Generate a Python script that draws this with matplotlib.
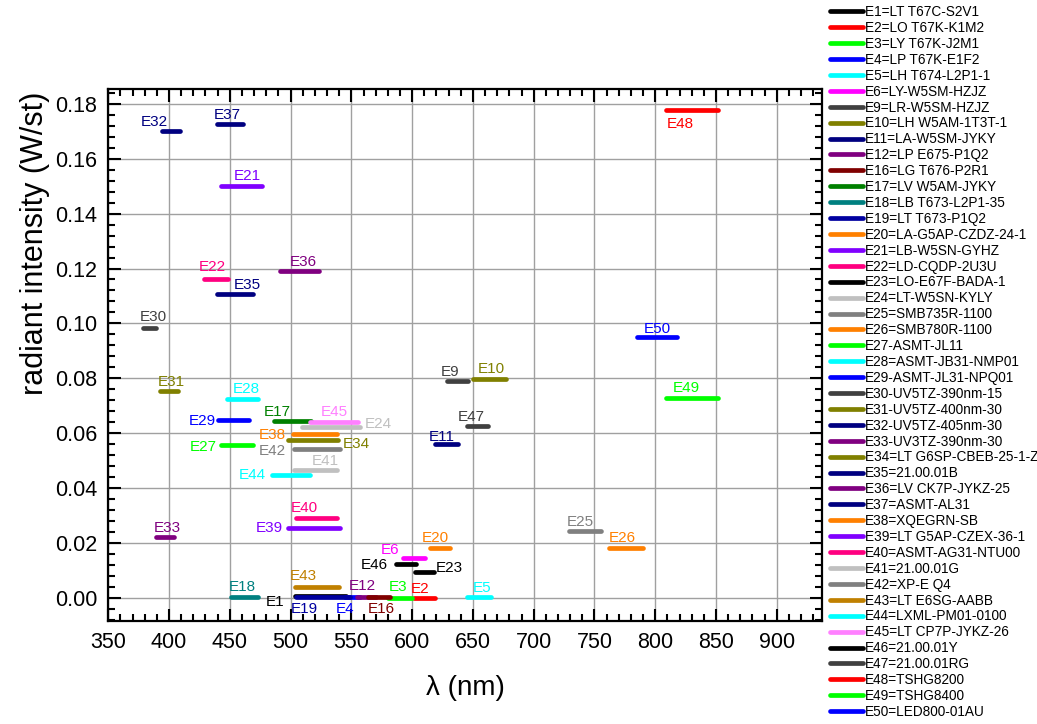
import matplotlib
matplotlib.use("Agg")
import matplotlib.pyplot as plt
from matplotlib.ticker import MultipleLocator

plt.rcParams['font.family'] = ['Liberation Sans', 'DejaVu Sans']

# emitter names, wavelength span (nm) and radiant intensity (W/st)
names = ["E1", "E2", "E3", "E4", "E5", "E6", "E9", "E10", "E11", "E12",
         "E16", "E17", "E18", "E19", "E20", "E21", "E22", "E23", "E24", "E25",
         "E26", "E27", "E28", "E29", "E30", "E31", "E32", "E33", "E34", "E35",
         "E36", "E37", "E38", "E39", "E40", "E41", "E42", "E43", "E44", "E45",
         "E46", "E47", "E48", "E49", "E50"]
lam_lo = [503.5, 601.6, 580, 545, 645.2, 592.6, 628.3, 649.9, 618.7, 555,
          563.8, 486.3, 450.9, 504.1, 615.1, 442.4, 428.5, 602.2, 509, 728.9,
          761.8, 442.7, 447.6, 440.2, 378.5, 392.5, 393.9, 389.2, 497.5, 439.1,
          491.2, 439.6, 501.6, 498, 504.1, 502.7, 502.7, 503.5, 484.4, 515.9,
          586.6, 645.2, 809.2, 809.2, 785]
lam_hi = [545.2, 619.2, 600, 557, 665.3, 610.4, 646.1, 677.1, 637.8, 570,
          582.2, 516.4, 473.4, 548.8, 631, 476.6, 448.2, 618.1, 557, 755.2,
          790.3, 469, 473.4, 466, 389.2, 407.3, 409, 404, 539.1, 469.2,
          523.3, 461, 537.8, 540.5, 538.3, 538.3, 540.5, 540, 515.9, 555.6,
          603, 662.5, 851.6, 851.6, 817.9]
intensity = [0.0008, 0.0001, 0.0001, 0.0003, 0.0003, 0.0147, 0.0790, 0.0797, 0.0559, 0.0002,
             0.0002, 0.0646, 0.0003, 0.0003, 0.0183, 0.1499, 0.1162, 0.0096, 0.0622, 0.0245,
             0.0183, 0.0557, 0.0724, 0.0649, 0.0984, 0.0754, 0.1701, 0.0222, 0.0575, 0.1107,
             0.1192, 0.1728, 0.0598, 0.0254, 0.0290, 0.0465, 0.0542, 0.0038, 0.0448, 0.0640,
             0.0125, 0.0626, 0.1778, 0.0730, 0.0952]
legend_text = ["E1=LT T67C-S2V1", "E2=LO T67K-K1M2", "E3=LY T67K-J2M1", "E4=LP T67K-E1F2",
               "E5=LH T674-L2P1-1", "E6=LY-W5SM-HZJZ", "E9=LR-W5SM-HZJZ", "E10=LH W5AM-1T3T-1",
               "E11=LA-W5SM-JYKY", "E12=LP E675-P1Q2", "E16=LG T676-P2R1", "E17=LV W5AM-JYKY",
               "E18=LB T673-L2P1-35", "E19=LT T673-P1Q2", "E20=LA-G5AP-CZDZ-24-1", "E21=LB-W5SN-GYHZ",
               "E22=LD-CQDP-2U3U", "E23=LO-E67F-BADA-1", "E24=LT-W5SN-KYLY", "E25=SMB735R-1100",
               "E26=SMB780R-1100", "E27-ASMT-JL11", "E28=ASMT-JB31-NMP01", "E29-ASMT-JL31-NPQ01",
               "E30-UV5TZ-390nm-15", "E31-UV5TZ-400nm-30", "E32-UV5TZ-405nm-30", "E33-UV3TZ-390nm-30",
               "E34=LT G6SP-CBEB-25-1-Z", "E35=21.00.01B", "E36=LV CK7P-JYKZ-25", "E37=ASMT-AL31",
               "E38=XQEGRN-SB", "E39=LT G5AP-CZEX-36-1", "E40=ASMT-AG31-NTU00", "E41=21.00.01G",
               "E42=XP-E Q4", "E43=LT E6SG-AABB", "E44=LXML-PM01-0100", "E45=LT CP7P-JYKZ-26",
               "E46=21.00.01Y", "E47=21.00.01RG", "E48=TSHG8200", "E49=TSHG8400", "E50=LED800-01AU"]

colors = ["#000000", "#ff0000", "#00ff00", "#0000ff", "#00ffff", "#ff00ff", "#404040", "#808000",
          "#000080", "#800080", "#800000", "#008000", "#008080", "#0000a0", "#ff8000", "#8000ff",
          "#ff0080", "#000000", "#c0c0c0", "#808080", "#ff8000", "#00ff00", "#00ffff", "#0000ff",
          "#404040", "#808000", "#000080", "#800080", "#808000", "#000080", "#800080", "#000080",
          "#ff8000", "#8000ff", "#ff0080", "#c0c0c0", "#808080", "#c08000", "#00ffff", "#ff80ff",
          "#000000", "#404040", "#ff0000", "#00ff00", "#0000ff"]

# label placement: (reference end, h-align, dx px, dy px) relative to the segment
place = {
    "E1": ("lo", "right", -10, -10), "E2": ("mid", "center", -5, 5), "E3": ("mid", "center", -2, 7),
    "E4": ("mid", "center", -8, -16), "E5": ("mid", "center", 3, 5), "E6": ("lo", "right", -4, 4),
    "E9": ("mid", "center", -7, 5), "E10": ("mid", "center", 2, 6), "E11": ("mid", "center", -5, 3),
    "E12": ("mid", "center", -4, 7), "E16": ("mid", "center", 2, -16), "E17": ("mid", "center", -15, 5),
    "E18": ("mid", "center", -2, 6), "E19": ("lo", "left", -5, -16), "E20": ("mid", "center", -5, 6),
    "E21": ("mid", "center", 6, 6), "E22": ("mid", "center", -3, 8), "E23": ("hi", "left", 2, 0),
    "E24": ("hi", "left", 5, -1), "E25": ("mid", "center", -4, 5), "E26": ("mid", "center", -4, 6),
    "E27": ("lo", "right", -4, -6), "E28": ("mid", "center", 4, 6), "E29": ("lo", "right", -2, -5),
    "E30": ("mid", "center", 4, 7), "E31": ("mid", "center", 2, 5), "E32": ("mid", "center", -16, 5),
    "E33": ("mid", "center", 2, 5), "E34": ("hi", "left", 5, -8), "E35": ("mid", "center", 12, 5),
    "E36": ("mid", "center", 4, 5), "E37": ("mid", "center", -3, 5), "E38": ("lo", "right", -7, -5),
    "E39": ("lo", "right", -5, -4), "E40": ("mid", "center", -12, 6), "E41": ("mid", "center", 10, 5),
    "E42": ("lo", "right", -8, -6), "E43": ("mid", "center", -14, 7), "E44": ("lo", "right", -6, -4),
    "E45": ("mid", "center", 0, 6), "E46": ("lo", "right", -8, -5), "E47": ("mid", "center", -6, 5),
    "E48": ("lo", "left", 0, -18), "E49": ("mid", "center", -6, 6), "E50": ("mid", "center", 0, 4),
}

fig = plt.figure(figsize=(10.37, 7.24), dpi=100)
ax = fig.add_axes([0.1044, 0.1423, 0.688, 0.7344])

handles = []
for i, n in enumerate(names):
    h, = ax.plot([lam_lo[i], lam_hi[i]], [intensity[i], intensity[i]], color=colors[i],
                 lw=3.4, solid_capstyle='round', label=legend_text[i], zorder=3)
    handles.append(h)
    ref, ha, dx, dy = place[n]
    xr = {"lo": lam_lo[i], "hi": lam_hi[i], "mid": (lam_lo[i] + lam_hi[i]) / 2}[ref]
    ax.annotate(n, (xr, intensity[i]), xytext=(dx, dy), textcoords='offset pixels',
                ha=ha, va='baseline', color=colors[i], fontsize=11, zorder=4)

ax.set_xlim(350, 937)
ax.set_ylim(-0.0084, 0.1853)
ax.xaxis.set_minor_locator(MultipleLocator(10))
ax.yaxis.set_minor_locator(MultipleLocator(0.004))
ax.set_yticks([0, 0.02, 0.04, 0.06, 0.08, 0.10, 0.12, 0.14, 0.16, 0.18])
ax.set_yticklabels(["%.2f" % v for v in ax.get_yticks()])
ax.set_xticks(list(range(350, 901, 50)))
ax.grid(True, which='major', color='#a0a0a0', lw=1.0, zorder=0)
ax.tick_params(which='both', direction='in', top=True, right=True, labelsize=15.5, width=1.5)
ax.tick_params(which='major', length=9, pad=8)
ax.tick_params(which='minor', length=5)
for s in ax.spines.values():
    s.set_linewidth(1.6)

ax.set_xlabel("λ (nm)", fontsize=20, labelpad=16)
ax.set_ylabel("radiant intensity (W/st)", fontsize=22)
ax.yaxis.set_label_coords(-0.082, 0.71)

fig.legend(handles=handles, loc='upper left', bbox_to_anchor=(0.8005, 0.993), frameon=False,
           fontsize=9.8, handlelength=2.4, handletextpad=0.15, labelspacing=0.14,
           borderaxespad=0, borderpad=0)

fig.savefig("out.png", dpi=100)
